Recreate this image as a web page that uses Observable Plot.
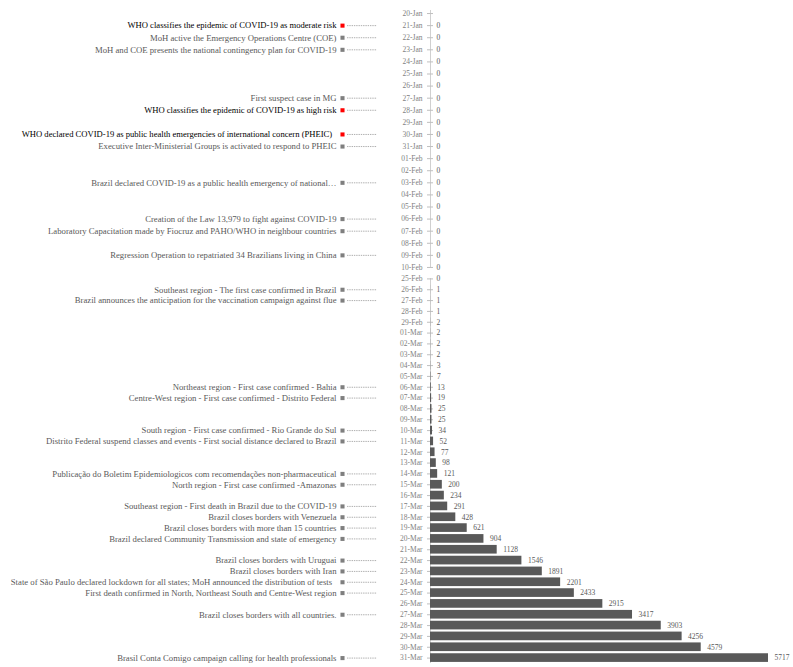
<!DOCTYPE html>
<html>
<head>
<meta charset="utf-8">
<script src="https://cdn.jsdelivr.net/npm/d3@7"></script>
<script src="https://cdn.jsdelivr.net/npm/@observablehq/plot@0.6"></script>
<style>
  body { margin: 0; background: #fff; }
  svg { display: block; }
</style>
</head>
<body>
<div id="chart"></div>
<script>
// ---- Data ----
const datesJanFeb = ["20-Jan","21-Jan","22-Jan","23-Jan","24-Jan","25-Jan","26-Jan","27-Jan","28-Jan","29-Jan","30-Jan","31-Jan",
  "01-Feb","02-Feb","03-Feb","04-Feb","05-Feb","06-Feb","07-Feb","08-Feb","09-Feb","10-Feb"];
const casesJanFeb = [null,0,0,0,0,0,0,0,0,0,0,0, 0,0,0,0,0,0,0,0,0,0];

const datesFebMar = ["25-Feb","26-Feb","27-Feb","28-Feb","29-Feb",
  "01-Mar","02-Mar","03-Mar","04-Mar","05-Mar","06-Mar","07-Mar","08-Mar","09-Mar","10-Mar",
  "11-Mar","12-Mar","13-Mar","14-Mar","15-Mar","16-Mar","17-Mar","18-Mar","19-Mar","20-Mar",
  "21-Mar","22-Mar","23-Mar","24-Mar","25-Mar","26-Mar","27-Mar","28-Mar","29-Mar","30-Mar","31-Mar"];
const casesFebMar = [0,1,1,1,2, 2,2,2,3,7,13,19,25,25,34, 52,77,98,121,200,234,291,428,621,904,
  1128,1546,1891,2201,2433,2915,3417,3903,4256,4579,5717];

const eventDates = ["21-Jan","22-Jan","23-Jan","27-Jan","28-Jan","30-Jan","31-Jan","03-Feb","06-Feb","07-Feb","09-Feb",
  "26-Feb","27-Feb","06-Mar","07-Mar","10-Mar","11-Mar","14-Mar","15-Mar","17-Mar","18-Mar","19-Mar","20-Mar",
  "22-Mar","23-Mar","24-Mar","25-Mar","27-Mar","31-Mar"];
const eventTexts = [
  "WHO classifies the epidemic of COVID-19 as moderate risk",
  "MoH active the Emergency Operations Centre (COE)",
  "MoH and COE presents the national contingency plan for COVID-19",
  "First suspect case in MG",
  "WHO classifies the epidemic of COVID-19 as high risk",
  "WHO declared COVID-19 as public health emergencies of international concern (PHEIC)\u00a0\u00a0",
  "Executive Inter-Ministerial Groups is activated to respond to PHEIC",
  "Brazil declared COVID-19 as a public health emergency of national\u2026",
  "Creation of the Law 13,979 to fight against COVID-19",
  "Laboratory Capacitation made by Fiocruz and PAHO/WHO in neighbour countries",
  "Regression Operation to repatriated 34 Brazilians living in China",
  "Southeast region - The first case confirmed in Brazil",
  "Brazil announces the anticipation for the vaccination campaign against flue",
  "Northeast region - First case confirmed - Bahia",
  "Centre-West region - First case confirmed - Distrito Federal",
  "South region - First case confirmed - Rio Grande do Sul",
  "Distrito Federal suspend classes and events - First social distance declared to Brazil",
  "Publica\u00e7\u00e3o do Boletim Epidemiologicos com recomenda\u00e7\u00f5es non-pharmaceutical",
  "North region - First case confirmed -Amazonas",
  "Southeast region - First death in Brazil due to the COVID-19",
  "Brazil closes borders with Venezuela",
  "Brazil closes borders with more than 15 countries",
  "Brazil declared Community Transmission and state of emergency",
  "Brazil closes borders with Uruguai",
  "Brazil closes borders with Iran",
  "State of S\u00e3o Paulo declared lockdown for all states; MoH announced the distribution of tests\u00a0\u00a0",
  "First death confirmed in North, Northeast South and Centre-West region",
  "Brazil closes borders with all countries.",
  "Brasil Conta Comigo campaign calling for health professionals"
];
const eventIsWHO = eventTexts.map(t => t.startsWith("WHO"));

// ---- Build tables ----
const events = eventDates.map((d, i) => ({date: d, text: eventTexts[i], who: eventIsWHO[i]}));
const maxCases = d3.max(casesFebMar);

const W = 793, ML = 430, MR = 25;
const frameW = W - ML - MR;
const FONT = "'Liberation Serif', 'Times New Roman', serif";

function panel(dates, cases, {height, marginTop, marginBottom, axisInsetTop, axisInsetBottom}) {
  const rows = dates.map((d, i) => ({date: d, cases: cases[i]})).filter(r => r.cases != null);
  const ev = events.filter(e => dates.includes(e.date));
  return Plot.plot({
    width: W, height,
    marginLeft: ML, marginRight: MR, marginTop, marginBottom,
    style: {fontFamily: FONT, background: "#fff", overflow: "visible"},
    x: {domain: [0, maxCases], range: [ML, W - MR], axis: null},
    y: {domain: dates, range: [marginTop, height - marginBottom], round: false,
        paddingInner: 0.2, paddingOuter: 0.1, axis: null},
    marks: [
      Plot.ruleX([0], {stroke: "#d0d0d0", insetTop: axisInsetTop, insetBottom: axisInsetBottom}),
      Plot.axisY({anchor: "left", tickSize: 6, dx: 3, tickPadding: 5, fontSize: 7.5,
        stroke: "#bfbfbf", fill: "#7f7f7f", label: null}),
      Plot.barX(rows, {x: "cases", y: "date", fill: "#595959"}),
      Plot.text(rows, {x: "cases", y: "date", text: d => String(d.cases), textAnchor: "start",
        dx: 6, fontSize: 7.5, fill: "#595959"}),
      Plot.ruleY(ev, {y: "date", stroke: "#8c8c8c", strokeWidth: 0.7, strokeDasharray: "1.4,0.9",
        insetLeft: -83, insetRight: frameW + 53}),
      Plot.dot(ev, {y: "date", frameAnchor: "left", dx: -88, symbol: "square", r: 2.3,
        fill: d => d.who ? "#ff0000" : "#7f7f7f", stroke: null}),
      Plot.text(ev, {y: "date", frameAnchor: "left", dx: -94, textAnchor: "end", text: "text",
        fontSize: d => d.who ? 8.6 : 8.7, fill: d => d.who ? "#000000" : "#595959"})
    ]
  });
}

const chart = document.getElementById("chart");
chart.append(panel(datesJanFeb, casesJanFeb, {height: 273, marginTop: 7, marginBottom: 0, axisInsetTop: 3, axisInsetBottom: 6}));
chart.append(panel(datesFebMar, casesFebMar, {height: 394, marginTop: 0, marginBottom: 4, axisInsetTop: 5, axisInsetBottom: 0}));
</script>
</body>
</html>
